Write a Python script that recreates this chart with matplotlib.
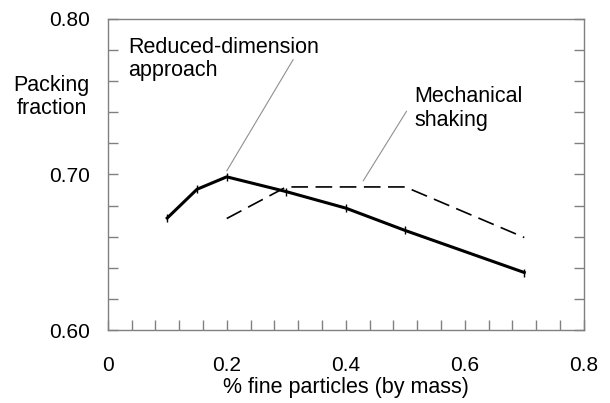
import numpy as np
import matplotlib
matplotlib.use('Agg')
from matplotlib import pyplot as plt
from matplotlib.ticker import MultipleLocator, FormatStrFormatter

plt.rcParams['font.family'] = ['Liberation Sans', 'DejaVu Sans']

# reduced-dimension approach (solid)
rd_x = [0.1, 0.15, 0.2, 0.3, 0.4, 0.5, 0.7]
rd_y = [0.672, 0.6905, 0.6985, 0.689, 0.6784, 0.664, 0.637]

# mechanical shaking (dashed)
ms_x = [0.2, 0.3, 0.5, 0.7]
ms_y = [0.6717, 0.692, 0.692, 0.6595]

fig = plt.figure(figsize=(6.1, 4.03), dpi=100)
ax = fig.add_axes([0.1766, 0.181, 0.7804, 0.772])

ax.plot(rd_x, rd_y, color='black', lw=2.2, marker='|', ms=6, mew=1)
ax.plot(ms_x, ms_y, color='black', lw=1.2, ls=(0, (10, 4.5)))

ax.set_xlim(0, 0.8)
ax.set_ylim(0.60, 0.80)
ax.xaxis.set_major_locator(MultipleLocator(0.2))
ax.xaxis.set_minor_locator(MultipleLocator(0.04))
ax.yaxis.set_major_locator(MultipleLocator(0.1))
ax.yaxis.set_minor_locator(MultipleLocator(0.02))
ax.xaxis.set_major_formatter(lambda v, p: '0' if abs(v) < 1e-9 else f'{v:.1f}')
ax.yaxis.set_major_formatter(FormatStrFormatter('%.2f'))

for s in ax.spines.values():
    s.set_color('#808080')
    s.set_linewidth(1)
ax.tick_params(which='both', direction='in', color='#808080', length=7, width=1,
               labelsize=15, right=True, top=False)
ax.tick_params(axis='x', pad=19)
ax.tick_params(axis='y', pad=13)

ax.set_xlabel('% fine particles (by mass)', fontsize=15.5, labelpad=1)
fig.text(0.0844, 0.759, 'Packing\nfraction', fontsize=15.5, ha='center', va='center',
         multialignment='center', linespacing=1.15)

# annotation texts and leader lines
ax.text(0.0346, 0.7885, 'Reduced-dimension\napproach', fontsize=15.5, ha='left', va='top',
        linespacing=1.15)
ax.annotate('', xy=(0.2, 0.7023), xytext=(0.3117, 0.7739),
            arrowprops=dict(arrowstyle='-', color='#909090', lw=0.8, shrinkA=0, shrinkB=0))
ax.text(0.515, 0.7566, 'Mechanical\nshaking', fontsize=15.5, ha='left', va='top',
        linespacing=1.15)
ax.annotate('', xy=(0.4293, 0.6959), xytext=(0.5022, 0.7407),
            arrowprops=dict(arrowstyle='-', color='#909090', lw=0.8, shrinkA=0, shrinkB=0))

fig.savefig('out.png', dpi=100)
